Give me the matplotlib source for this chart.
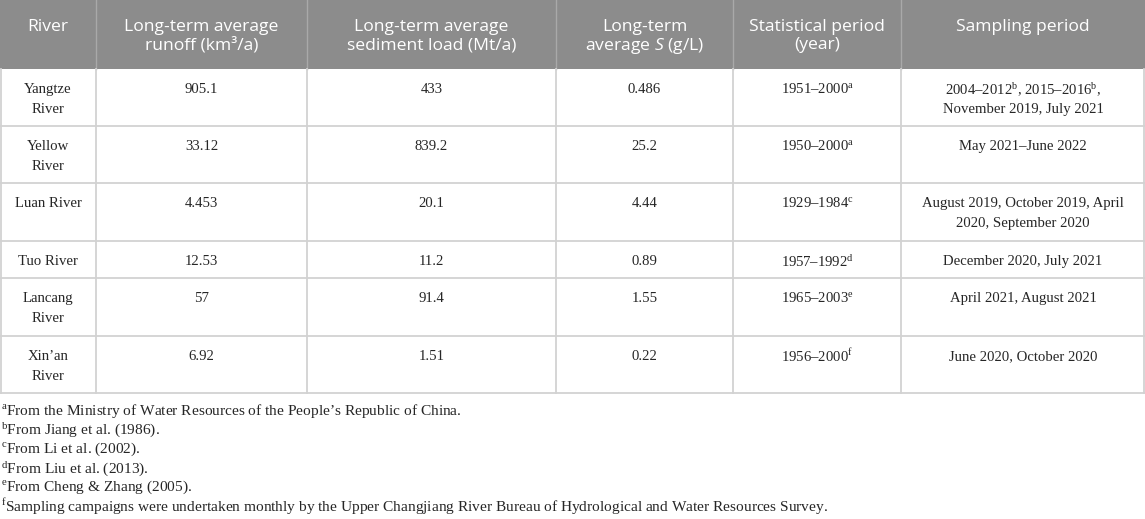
import matplotlib
matplotlib.use("Agg")
import matplotlib.pyplot as plt
from matplotlib.patches import Rectangle

plt.rcParams['mathtext.fontset'] = 'custom'
plt.rcParams['mathtext.rm'] = 'Liberation Serif'
plt.rcParams['mathtext.it'] = 'Open Sans:italic'

# ---------------- data ----------------
headers = [
    ["River"],
    ["Long-term average", "runoff (km³/a)"],
    ["Long-term average", "sediment load (Mt/a)"],
    ["Long-term", r"average $\mathit{S}$ (g/L)"],
    ["Statistical period", "(year)"],
    ["Sampling period"],
]
rivers = [["Yangtze", "River"], ["Yellow", "River"], ["Luan River"],
          ["Tuo River"], ["Lancang", "River"], ["Xin’an", "River"]]
runoff = ["905.1", "33.12", "4.453", "12.53", "57", "6.92"]
sediment = ["433", "839.2", "20.1", "11.2", "91.4", "1.51"]
conc_s = ["0.486", "25.2", "4.44", "0.89", "1.55", "0.22"]
stat_period = ["1951–2000", "1950–2000", "1929–1984", "1957–1992", "1965–2003", "1956–2000"]
stat_note = ["a", "a", "c", "d", "e", "f"]
sampling = [
    ["2004–2012$^{\\mathrm{b}}$, 2015–2016$^{\\mathrm{b}}$,", "November 2019, July 2021"],
    ["May 2021–June 2022"],
    ["August 2019, October 2019, April", "2020, September 2020"],
    ["December 2020, July 2021"],
    ["April 2021, August 2021"],
    ["June 2020, October 2020"],
]
footnote_keys = ["a", "b", "c", "d", "e", "f"]
footnotes = [
    "From the Ministry of Water Resources of the People’s Republic of China.",
    "From Jiang et al. (1986).",
    "From Li et al. (2002).",
    "From Liu et al. (2013).",
    "From Cheng & Zhang (2005).",
    "Sampling campaigns were undertaken monthly by the Upper Changjiang River Bureau of Hydrological and Water Resources Survey.",
]

# ---------------- layout ----------------
W, H = 1145, 519
col_edges = [0, 96, 307, 556, 733, 901, 1145]
header_h = 69
row_heights = [57, 57, 58, 37, 58, 57]
header_color = "#8c8c8c"
header_sep = "#a9a9a9"
grid_color = "#d2d2d2"
text_color = "#262626"

fig = plt.figure(figsize=(W / 100, H / 100), dpi=100)
ax = fig.add_axes([0, 0, 1, 1])
ax.set_xlim(0, W)
ax.set_ylim(H, 0)
ax.axis("off")

# header
ax.add_patch(Rectangle((0, 0), W, header_h, facecolor=header_color, edgecolor="none"))
for x in col_edges[1:-1]:
    ax.plot([x, x], [0, header_h], color=header_sep, lw=1.0)
for j, lines in enumerate(headers):
    cx = (col_edges[j] + col_edges[j + 1]) / 2
    for k, line in enumerate(lines):
        ax.text(cx, 25 + 18 * k, line, ha="center", va="center_baseline",
                fontsize=12.6, family="Open Sans", color="white")

# body
row_tops = [header_h]
for h in row_heights:
    row_tops.append(row_tops[-1] + h)
bottom = row_tops[-1]

for y in row_tops[1:]:
    ax.plot([0, W], [y, y], color=grid_color, lw=1.3)
for x in col_edges:
    xx = min(max(x, 0.6), W - 0.6)
    ax.plot([xx, xx], [header_h, bottom], color=grid_color, lw=1.3)

body_kw = dict(ha="center", va="center_baseline", fontsize=10.6,
               family="Liberation Serif", color=text_color)
for i in range(len(rivers)):
    top = row_tops[i]
    cells = [rivers[i], [runoff[i]], [sediment[i]], [conc_s[i]],
             [stat_period[i] + "$^{\\mathrm{" + stat_note[i] + "}}$"], sampling[i]]
    for j, lines in enumerate(cells):
        cx = (col_edges[j] + col_edges[j + 1]) / 2
        for k, line in enumerate(lines):
            ax.text(cx, top + 19 + 20 * k, line, **body_kw)

# footnotes
for k, (key, note) in enumerate(zip(footnote_keys, footnotes)):
    ax.text(1, 408 + 19.2 * k, "$^{\\mathrm{" + key + "}}$" + note, ha="left",
            va="center_baseline", fontsize=11.1, family="Liberation Serif", color=text_color)

fig.savefig("out.png", dpi=100)
